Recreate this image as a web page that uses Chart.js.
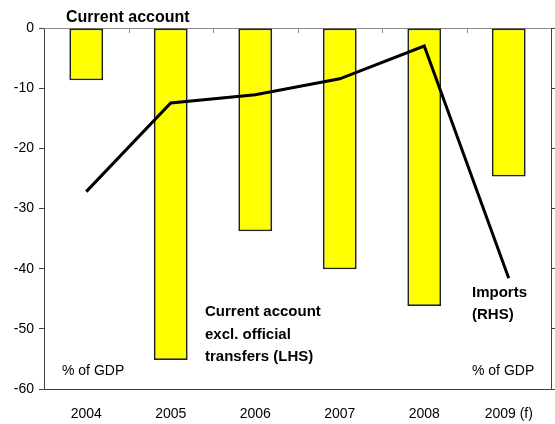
<!DOCTYPE html>
<html>
<head>
<meta charset="utf-8">
<script src="https://cdn.jsdelivr.net/npm/chart.js@4/dist/chart.umd.min.js"></script>
<style>
  html, body { margin: 0; padding: 0; background: #fff; overflow: hidden; }
  #wrap { width: 555px; height: 424px; position: relative; }
</style>
</head>
<body>
<div id="wrap"><canvas id="ca"></canvas></div>
<script>
const years = ['2004', '2005', '2006', '2007', '2008', '2009 (f)'];
// current account excl. official transfers, % of GDP (left axis)
const currentAccount = [-8.7, -55.2, -33.8, -40.1, -46.2, -24.7];
// imports, % of GDP (right axis)
const imports = [65.6, 95.1, 97.8, 103.1, 114.0, 36.8];

const FONT = '"Liberation Sans", Arial, sans-serif';

// labels written straight onto the plot
const notes = {
  id: 'notes',
  beforeDatasetsDraw(chart) {
    const { ctx, chartArea, scales } = chart;
    const x = scales.x;
    const step = x.getPixelForValue(1) - x.getPixelForValue(0);
    ctx.save();
    // zero line along the top with small category ticks
    ctx.strokeStyle = '#8a8a8a';
    ctx.lineWidth = 1;
    ctx.beginPath();
    ctx.moveTo(chartArea.left, chartArea.top + 0.5);
    ctx.lineTo(chartArea.right, chartArea.top + 0.5);
    for (let i = 1; i < years.length; i++) {
      const px = Math.round(x.getPixelForValue(i) - step / 2) + 0.5;
      ctx.moveTo(px, chartArea.top);
      ctx.lineTo(px, chartArea.top + 5);
    }
    ctx.stroke();
    ctx.restore();
  },
  afterDraw(chart) {
    const { ctx } = chart;
    ctx.save();
    ctx.fillStyle = '#000';
    ctx.textBaseline = 'alphabetic';
    ctx.textAlign = 'left';
    ctx.font = 'bold 16px ' + FONT;
    ctx.fillText('Current account', 66, 21.5);
    ctx.font = 'bold 15px ' + FONT;
    ctx.fillText('Current account', 205, 316);
    ctx.fillText('excl. official', 205, 338.5);
    ctx.fillText('transfers (LHS)', 205, 360.5);
    ctx.fillText('Imports', 472, 297);
    ctx.fillText('(RHS)', 472, 319);
    ctx.font = '14px ' + FONT;
    ctx.fillText('% of GDP', 62, 375);
    ctx.fillText('% of GDP', 472, 375);
    ctx.restore();
  }
};

new Chart(document.getElementById('ca'), {
  data: {
    labels: years,
    datasets: [{
      type: 'line',
      label: 'Imports (RHS)',
      data: imports,
      yAxisID: 'y1',
      borderColor: '#000',
      borderWidth: 3,
      pointRadius: 0,
      tension: 0,
      fill: false
    }, {
      type: 'bar',
      label: 'Current account excl. official transfers (LHS)',
      data: currentAccount,
      yAxisID: 'y',
      backgroundColor: '#ffff00',
      borderColor: '#222222',
      borderWidth: 1.8,
      borderSkipped: false,
      categoryPercentage: 1,
      barPercentage: 0.4
    }]
  },
  options: {
    responsive: true,
    maintainAspectRatio: false,
    animation: false,
    layout: { padding: { top: 28, left: 0, right: 0, bottom: 0 } },
    plugins: {
      legend: { display: false },
      title: { display: false },
      tooltip: { enabled: false }
    },
    scales: {
      x: {
        offset: true,
        grid: { display: false },
        border: { display: true, color: '#404040', width: 1 },
        ticks: { color: '#000', font: { family: FONT, size: 14 }, padding: 9, maxRotation: 0 },
        afterFit(s) { s.height = 35; }
      },
      y: {
        position: 'left',
        min: -60,
        max: 0,
        grid: { drawOnChartArea: false, drawTicks: true, tickLength: 5, color: '#404040' },
        border: { display: true, color: '#404040', width: 1 },
        ticks: { stepSize: 10, color: '#000', font: { family: FONT, size: 14 }, padding: 5 },
        afterFit(s) { s.width = 44; }
      },
      y1: {
        position: 'right',
        min: 0,
        max: 120,
        grid: { drawOnChartArea: false, drawTicks: true, tickLength: 5, color: '#404040' },
        border: { display: true, color: '#404040', width: 1 },
        ticks: { stepSize: 20, callback: () => '' },
        afterFit(s) { s.width = 4; }
      }
    }
  },
  plugins: [notes]
});
</script>
</body>
</html>
